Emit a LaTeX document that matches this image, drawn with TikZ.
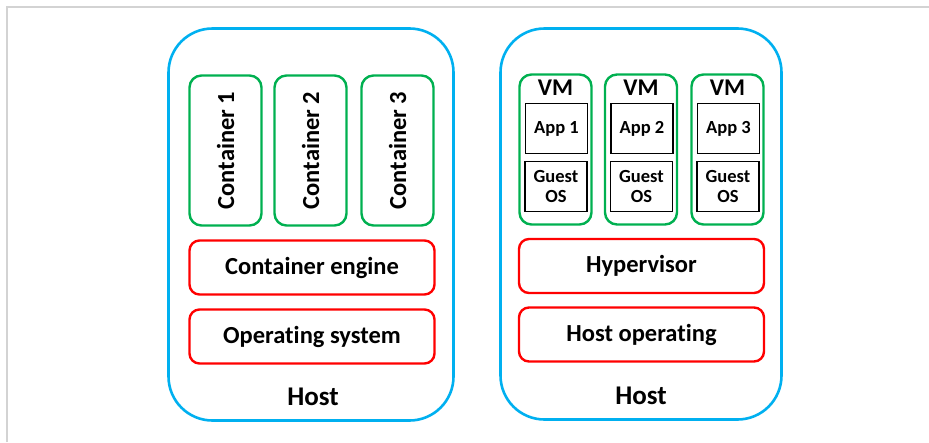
\documentclass[tikz,border=0pt]{standalone}
\usepackage{fontspec}
\setmainfont{Carlito}[Ligatures=NoCommon]
\definecolor{hostblue}{HTML}{00B0F0}
\definecolor{boxgreen}{HTML}{00B050}
\definecolor{boxred}{HTML}{FF0000}
\definecolor{frame}{HTML}{D3D3D3}
\begin{document}
\begin{tikzpicture}[x=1pt,y=-1pt,
  every node/.style={inner sep=0pt, outer sep=0pt, font=\bfseries},
  host/.style={draw=hostblue, line width=2.6pt, rounded corners=44pt},
  greenbox/.style={draw=boxgreen, line width=2.4pt, rounded corners=12pt,
    minimum width=72pt, minimum height=150pt},
  redbox/.style={draw=boxred, line width=2.4pt, rounded corners=10pt,
    minimum width=245pt, minimum height=54pt, font=\fontsize{24.5}{28}\bfseries},
  inbox/.style={draw=black, line width=1.3pt, minimum width=62pt, minimum height=50pt,
    align=center, font=\fontsize{18.5}{21}\bfseries},
  hostlabel/.style={font=\fontsize{27}{32}\bfseries},
  vmlabel/.style={font=\fontsize{24}{26}\bfseries}]
\useasboundingbox (0,0) rectangle (929,442);
% frame around the figure
\draw[frame, line width=2.2pt] (7,442) -- (7,7) -- (929,7);

% ---- container host ----
\node[host, minimum width=285pt, minimum height=392pt] (hostL) at (311,224.5) {};
\foreach \i/\x in {1/225.5, 2/310.5, 3/397.5}
  \node[greenbox] (c\i) at (\x,150.5)
    {\rotatebox{90}{\fontsize{24.5}{28}\bfseries Container \i}};
\node[redbox] (engine) at (312,267.5) {Container engine};
\node[redbox] (os) at (312,336.5) {Operating system};
\node[hostlabel] (hostLlabel) at (313,397) {Host};

% ---- VM host ----
\node[host, minimum width=281pt, minimum height=391pt] (hostR) at (641,224) {};
\foreach \i/\x in {1/555.5, 2/641, 3/727.5} {
  \node[greenbox] (vm\i) at (\x,149.5) {};
  \node[vmlabel] (vml\i) at (\x,87.5) {VM};
  \node[inbox] (app\i) at (\x+1,128.5) {App \i};
  \node[inbox] (guest\i) at (\x+0.5,186.5) {Guest\\[-1pt]OS};
}
\node[redbox] (hyper) at (641.5,266) {Hypervisor};
\node[redbox] (hostos) at (641.5,334.5) {Host operating};
\node[hostlabel] (hostRlabel) at (641,396) {Host};
\end{tikzpicture}
\end{document}
